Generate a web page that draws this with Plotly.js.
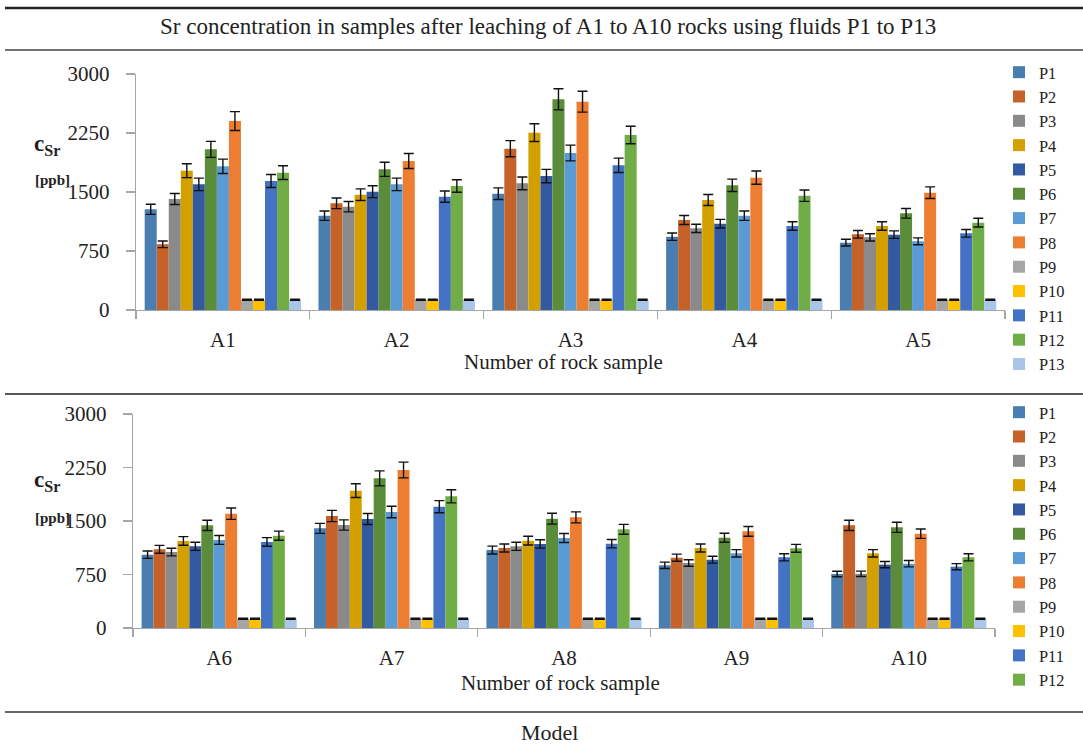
<!DOCTYPE html>
<html>
<head>
<meta charset="utf-8">
<script src="https://cdn.plot.ly/plotly-3.0.1.min.js"></script>
<style>html,body{margin:0;padding:0;background:#fff}#chart{width:1083px;height:745px}</style>
</head>
<body>
<div id="chart"></div>
<script>
// ---- data ----
const samplesTop = ['A1', 'A2', 'A3', 'A4', 'A5'];
const samplesBottom = ['A6', 'A7', 'A8', 'A9', 'A10'];
const fluids = ['P1','P2','P3','P4','P5','P6','P7','P8','P9','P10','P11','P12','P13'];
// values per fluid for A1..A10 (ppb)
const P1  = [1280, 1199, 1479,  932,  856, 1028, 1397, 1093,  879,  757];
const P2  = [ 835, 1356, 2051, 1144,  962, 1103, 1570, 1122,  986, 1439];
const P3  = [1411, 1313, 1610, 1038,  924, 1065, 1444, 1145,  911,  760];
const P4  = [1771, 1466, 2254, 1398, 1068, 1220, 1925, 1224, 1122, 1047];
const P5  = [1597, 1504, 1703, 1097,  958, 1145, 1528, 1178,  958,  888];
const P6  = [2042, 1788, 2678, 1585, 1229, 1439, 2098, 1533, 1266, 1411];
const P7  = [1826, 1597, 1996, 1199,  873, 1234, 1626, 1262, 1047,  902];
const P8  = [2402, 1894, 2648, 1682, 1491, 1603, 2215, 1551, 1355, 1322];
const P9  = [ 130,  130,  130,  130,  130,  130,  130,  130,  130,  130];
const P10 = [ 130,  130,  130,  130,  130,  130,  130,  130,  130,  130];
const P11 = [1640, 1441, 1839, 1068,  975, 1206, 1701, 1182,  991,  860];
const P12 = [1746, 1576, 2224, 1453, 1110, 1294, 1846, 1383, 1117,  991];
const P13 = [ 130,  130,  130,  130,  130,  130,  130,  130,  130,  130];
const yTicks = [0, 750, 1500, 2250, 3000];
const errorPercent = 5;

// ---- style ----
const seriesValues = [P1,P2,P3,P4,P5,P6,P7,P8,P9,P10,P11,P12,P13];
const colors = ['#4A7EB0','#C5622A','#8A8A8A','#D4A000','#335AA0','#5A8C3A','#5B9BD5',
                '#ED7D31','#A5A5A5','#FFC000','#4472C4','#70AD47','#A9C5EA'];
const serif = 'Liberation Serif, Times New Roman, serif';
const W = 1083, H = 745;
const px = x => x / W;
const py = y => 1 - y / H;

const traces = [];
fluids.forEach((name, i) => {
  const vals = seriesValues[i];
  const common = {
    type: 'bar', name: name,
    marker: {color: colors[i], line: {width: 0}},
    error_y: {type: 'percent', value: errorPercent, color: '#111', thickness: 1.4, width: 5},
    hoverinfo: 'x+y+name'
  };
  traces.push(Object.assign({}, common, {
    x: samplesTop, y: vals.slice(0, 5), xaxis: 'x', yaxis: 'y', legend: 'legend'
  }));
  traces.push(Object.assign({}, common, {
    x: samplesBottom, y: vals.slice(5, 10), xaxis: 'x2', yaxis: 'y2', legend: 'legend2',
    showlegend: name !== 'P13'
  }));
});

const xAxisBase = {
  type: 'category', showline: true, linecolor: '#A6A6A6', linewidth: 1.3,
  ticks: 'outside', tickson: 'boundaries', ticklen: 8, tickcolor: '#A6A6A6', tickwidth: 1.3,
  tickfont: {family: serif, size: 21, color: '#222'}, ticklabelstandoff: 10,
  showgrid: false, zeroline: false, fixedrange: true
};
const yAxisBase = {
  range: [0, 3000], tickvals: yTicks, ticktext: yTicks.map(String),
  showline: true, linecolor: '#A6A6A6', linewidth: 1.3,
  ticks: 'outside', ticklen: 9, tickcolor: '#A6A6A6', tickwidth: 1.3,
  tickfont: {family: serif, size: 21, color: '#222'}, ticklabelstandoff: 12,
  showgrid: false, zeroline: false, fixedrange: true
};

const legendBase = {
  xanchor: 'left', yanchor: 'top', bgcolor: 'rgba(0,0,0,0)', borderwidth: 0,
  font: {family: serif, size: 16.4, color: '#222'}, traceorder: 'normal', itemclick: false
};

const hline = (y, w, c) => ({type: 'line', xref: 'paper', yref: 'paper',
  x0: px(5), x1: 1, y0: py(y), y1: py(y), line: {color: c, width: w}});

const ann = (text, x, y, size, opts) => Object.assign({
  text: text, xref: 'paper', yref: 'paper', x: px(x), y: py(y),
  xanchor: 'center', yanchor: 'middle', showarrow: false,
  font: {family: serif, size: size, color: '#222'}
}, opts || {});

const layout = {
  width: W, height: H,
  margin: {l: 0, r: 0, t: 0, b: 0},
  paper_bgcolor: '#fff', plot_bgcolor: '#fff',
  barmode: 'group', bargap: 0.1, bargroupgap: 0,
  showlegend: true,
  xaxis: Object.assign({}, xAxisBase, {domain: [px(136), px(1005)], anchor: 'y'}),
  yaxis: Object.assign({}, yAxisBase, {domain: [py(310), py(74)], anchor: 'x'}),
  xaxis2: Object.assign({}, xAxisBase, {domain: [px(133), px(995)], anchor: 'y2'}),
  yaxis2: Object.assign({}, yAxisBase, {domain: [py(628), py(414)], anchor: 'x2'}),
  legend: Object.assign({}, legendBase, {x: px(999), y: py(55)}),
  legend2: Object.assign({}, legendBase, {x: px(999), y: py(395)}),
  shapes: [hline(8, 2.6, '#222'), hline(50, 1.5, '#444'), hline(394, 1.5, '#222'), hline(712, 1.5, '#333')],
  annotations: [
    ann('Sr concentration in samples after leaching of A1 to A10 rocks using fluids P1 to P13', 548, 26, 23),
    ann('Number of rock sample', 563, 362, 21),
    ann('Number of rock sample', 560, 683, 21),
    ann('Model', 549, 732, 22),
    ann('<b>c<sub>Sr</sub></b>', 32, 145, 23, {xanchor: 'left'}),
    ann('<b>[ppb]</b>', 33, 180, 15, {xanchor: 'left'}),
    ann('<b>c<sub>Sr</sub></b>', 32, 481, 23, {xanchor: 'left'}),
    ann('<b>[ppb]</b>', 33, 518, 15, {xanchor: 'left'})
  ]
};

Plotly.newPlot('chart', traces, layout, {displayModeBar: false, staticPlot: true});
</script>
</body>
</html>
